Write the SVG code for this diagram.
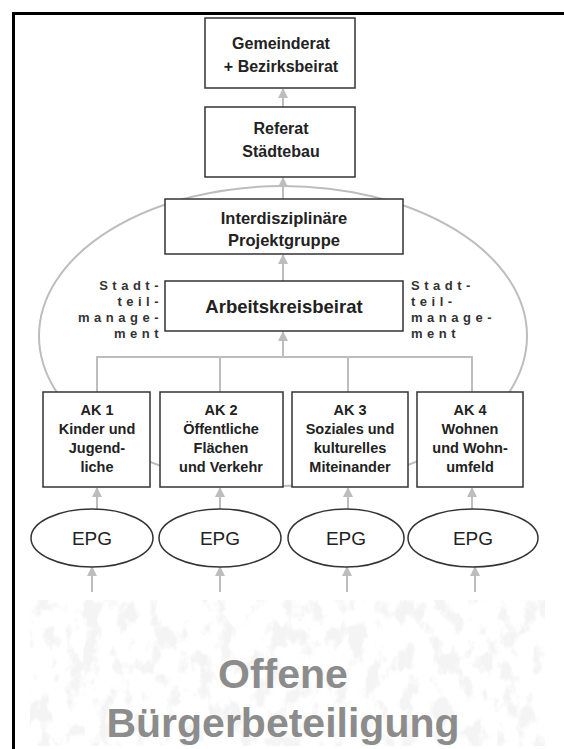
<svg xmlns="http://www.w3.org/2000/svg" width="564" height="749" viewBox="0 0 564 749">
<style>
.box{fill:#fff;stroke:#333;stroke-width:1.5}
.t{font-family:"Liberation Sans",Arial,sans-serif;font-weight:bold;fill:#222;text-anchor:middle}
.ak{font-size:14.5px}
.sm{font-family:"Liberation Sans",Arial,sans-serif;font-weight:bold;font-size:13px;fill:#333;letter-spacing:4.5px}
.con{stroke:#bdbdbd;stroke-width:2;fill:none}
.epg{fill:#fff;stroke:#333;stroke-width:1.5}
.et{font-family:"Liberation Sans",Arial,sans-serif;font-size:19px;fill:#222;text-anchor:middle}
</style>
<defs>
<marker id="ah" viewBox="0 0 10 10" refX="9" refY="5" markerWidth="5" markerHeight="5" orient="auto">
<path d="M0,0 L10,5 L0,10 z" fill="#bdbdbd"/>
</marker>
<filter id="noise" x="0" y="0" width="100%" height="100%">
<feTurbulence type="fractalNoise" baseFrequency="0.06 0.04" numOctaves="4" seed="7"/>
<feColorMatrix type="matrix" values="0 0 0 0 0.78  0 0 0 0 0.78  0 0 0 0 0.78  0 0 0 -6 3.0"/>
</filter>
</defs>
<rect width="564" height="749" fill="#fff"/>
<rect x="30" y="600" width="515" height="146" filter="url(#noise)" opacity="0.4"/>
<path d="M13.5,749 V13.5 H564" fill="none" stroke="#000" stroke-width="3"/>

<g id="connectors">
<ellipse class="con" cx="283" cy="336" rx="244" ry="150"/>
<line class="con" x1="283" y1="107" x2="283" y2="89" marker-end="url(#ah)"/>
<line class="con" x1="283" y1="199" x2="283" y2="178" marker-end="url(#ah)"/>
<line class="con" x1="283" y1="281" x2="283" y2="255" marker-end="url(#ah)"/>
<line class="con" x1="283" y1="357" x2="283" y2="332" marker-end="url(#ah)"/>
<path class="con" d="M97,392 V357 H472 V392 M220,357 V392 M348,357 V392"/>
<line class="con" x1="97" y1="509" x2="97" y2="488" marker-end="url(#ah)"/>
<line class="con" x1="220" y1="509" x2="220" y2="488" marker-end="url(#ah)"/>
<line class="con" x1="348" y1="509" x2="348" y2="488" marker-end="url(#ah)"/>
<line class="con" x1="472" y1="509" x2="472" y2="488" marker-end="url(#ah)"/>
<line class="con" x1="92" y1="592" x2="92" y2="567" marker-end="url(#ah)"/>
<line class="con" x1="220" y1="592" x2="220" y2="567" marker-end="url(#ah)"/>
<line class="con" x1="347" y1="592" x2="347" y2="567" marker-end="url(#ah)"/>
<line class="con" x1="475" y1="592" x2="475" y2="567" marker-end="url(#ah)"/>
</g>

<g id="gemeinderat">
<rect class="box" x="205" y="18" width="150" height="70"/>
<text class="t" x="281" y="49" font-size="16">Gemeinderat</text>
<text class="t" x="281" y="72" font-size="16">+ Bezirksbeirat</text>
</g>
<g id="referat">
<rect class="box" x="205" y="107" width="150" height="70"/>
<text class="t" x="281" y="134" font-size="16">Referat</text>
<text class="t" x="281" y="157" font-size="16">Städtebau</text>
</g>
<g id="projektgruppe">
<rect class="box" x="165" y="199" width="238" height="55"/>
<text class="t" x="284" y="224" font-size="16.5">Interdisziplinäre</text>
<text class="t" x="284" y="246" font-size="16.5">Projektgruppe</text>
</g>
<g id="arbeitskreisbeirat">
<rect class="box" x="165" y="281" width="238" height="50"/>
<text class="t" x="284" y="313" font-size="18.5">Arbeitskreisbeirat</text>
</g>
<g id="stadtteil-links">
<text class="sm" text-anchor="end" x="163" y="290">Stadt-</text>
<text class="sm" text-anchor="end" x="163" y="306">teil-</text>
<text class="sm" text-anchor="end" x="163" y="322">manage-</text>
<text class="sm" text-anchor="end" x="163" y="338">ment</text>
</g>
<g id="stadtteil-rechts">
<text class="sm" x="411" y="290">Stadt-</text>
<text class="sm" x="411" y="306">teil-</text>
<text class="sm" x="411" y="322">manage-</text>
<text class="sm" x="411" y="338">ment</text>
</g>
<g id="ak1">
<rect class="box" x="43" y="392" width="107" height="95"/>
<text class="t ak" x="97" y="415">AK 1</text>
<text class="t ak" x="97" y="434">Kinder und</text>
<text class="t ak" x="97" y="453">Jugend-</text>
<text class="t ak" x="97" y="472">liche</text>
</g>
<g id="ak2">
<rect class="box" x="160" y="392" width="123" height="95"/>
<text class="t ak" x="221" y="415">AK 2</text>
<text class="t ak" x="221" y="434">Öffentliche</text>
<text class="t ak" x="221" y="453">Flächen</text>
<text class="t ak" x="221" y="472">und Verkehr</text>
</g>
<g id="ak3">
<rect class="box" x="292" y="392" width="116" height="95"/>
<text class="t ak" x="350" y="415">AK 3</text>
<text class="t ak" x="350" y="434">Soziales und</text>
<text class="t ak" x="350" y="453">kulturelles</text>
<text class="t ak" x="350" y="472">Miteinander</text>
</g>
<g id="ak4">
<rect class="box" x="417" y="392" width="106" height="95"/>
<text class="t ak" x="470" y="415">AK 4</text>
<text class="t ak" x="470" y="434">Wohnen</text>
<text class="t ak" x="470" y="453">und Wohn-</text>
<text class="t ak" x="470" y="472">umfeld</text>
</g>
<g id="epg1"><ellipse class="epg" cx="92" cy="538" rx="61" ry="29"/><text class="et" x="92" y="545">EPG</text></g>
<g id="epg2"><ellipse class="epg" cx="220" cy="538" rx="61" ry="29"/><text class="et" x="220" y="545">EPG</text></g>
<g id="epg3"><ellipse class="epg" cx="346" cy="538" rx="58" ry="29"/><text class="et" x="346" y="545">EPG</text></g>
<g id="epg4"><ellipse class="epg" cx="473" cy="538" rx="65" ry="29"/><text class="et" x="473" y="545">EPG</text></g>
<g id="buergerbeteiligung">
<text x="283" y="688" font-family="Liberation Sans,Arial,sans-serif" font-weight="bold" font-size="41" fill="#8c8c8c" text-anchor="middle">Offene</text>
<text x="283" y="737" font-family="Liberation Sans,Arial,sans-serif" font-weight="bold" font-size="41" fill="#8c8c8c" text-anchor="middle">Bürgerbeteiligung</text>
</g>
</svg>
